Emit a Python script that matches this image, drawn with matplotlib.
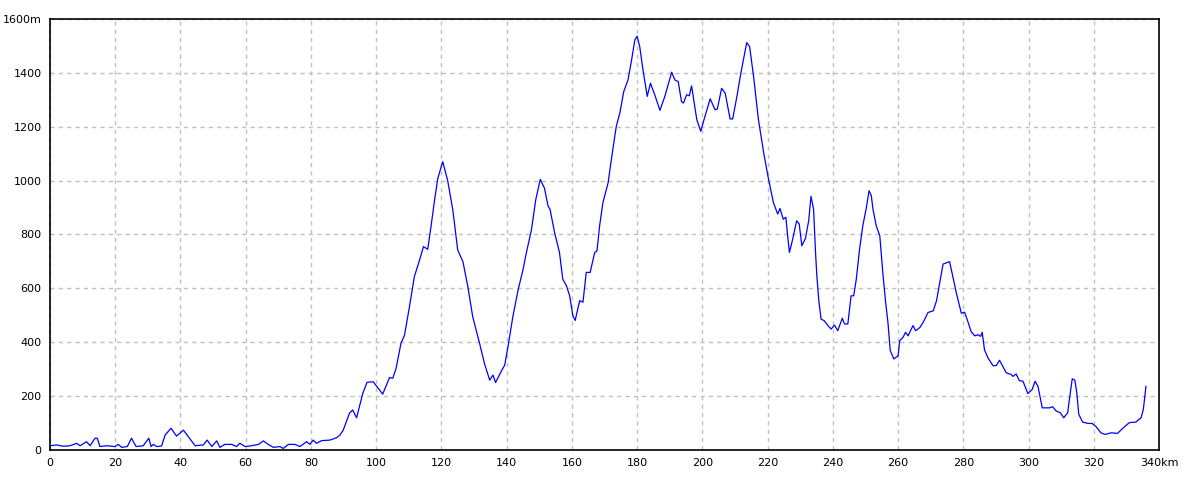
import matplotlib
matplotlib.use("Agg")
import matplotlib.pyplot as plt

km = [0, 2, 4.1, 6.1, 8.2, 9.2, 11.2, 12.3, 13.8, 14.5, 15.3, 17.4, 19.9, 20.9, 22,
      23.7, 25, 26.4, 28.6, 30.3, 31, 31.7, 32.7, 34.2, 35.3, 37.1, 38.8, 40.9, 42.4,
      44.5, 47, 48.2, 49.6, 51.1, 52.1, 53.6, 55.7, 57.2, 58.2, 59.8, 61.8, 63.9, 65.4,
      66.9, 68.5, 70.5, 71.5, 73.1, 75.1, 76.6, 78.7, 79.7, 80.7, 81.7, 83.3, 85.8,
      87.9, 88.9, 89.9, 91.8, 92.8, 94, 95.9, 97.2, 99.1, 102, 104.1, 105.1, 106.1,
      107.6, 108.7, 110.2, 111.7, 113.3, 114.5, 115.8, 116.8, 117.9, 118.9, 120.4,
      121.9, 123.5, 125, 126.6, 128.1, 129.6, 131.7, 133.2, 134.8, 135.8, 136.6,
      138.3, 139.4, 140.4, 141.9, 143.5, 145, 146, 147.6, 148.9, 150.3, 151.6, 152.7,
      153.3, 154.7, 156.2, 157.2, 158.3, 159.3, 160.3, 161, 162.4, 163.4, 164.4,
      165.6, 167, 167.7, 168.5, 169.5, 171.1, 172.1, 173.6, 174.7, 175.9, 177.2,
      178.3, 179.3, 180, 180.8, 181.8, 183.1, 184.1, 185.4, 187, 188.5, 190.6, 191.6,
      192.6, 193.6, 194.2, 195.2, 196, 196.7, 197.2, 198.3, 199.5, 200.5, 202.4,
      203.9, 204.6, 205.9, 207, 208.5, 209.3, 210.6, 211.8, 213.6, 214.5, 215.7,
      217.2, 218.8, 220.3, 221.8, 223.1, 223.8, 224.8, 225.6, 226.2, 226.7, 227.7,
      228.9, 229.7, 230.5, 231.6, 232.6, 233.3, 234.1, 234.7, 235.1, 235.7, 236.4,
      237.4, 238.5, 239.5, 240.5, 241.5, 242.9, 243.6, 244.6, 245.6, 246.4, 247.2,
      248.2, 249.2, 250.3, 251.1, 251.8, 252.3, 253.3, 254.4, 255.4, 256.2, 256.9,
      257.6, 258.7, 260, 260.5, 261.5, 262.3, 263.1, 263.8, 264.6, 265.4, 266.7,
      267.7, 269.2, 270.8, 271.8, 272.8, 273.8, 275.8, 276.8, 277.9, 279.4, 280.4,
      281.4, 282.4, 283.5, 284.5, 285.3, 285.8, 286.5, 287.6, 289.1, 290.1, 291.1,
      292.1, 293.2, 294.7, 295.2, 296.2, 297.2, 298.3, 299.8, 301.1, 302, 302.9,
      304.2, 306.4, 307.4, 308.5, 309.7, 310.8, 312, 312.8, 313.4, 314.2, 314.8,
      315.4, 316.6, 318.2, 319.5, 320.7, 322.2, 323.5, 325.3, 327.3, 328.9, 330.9,
      332.9, 334.5, 335.2, 336]
alt = [14, 17, 12, 14, 23, 14, 29, 14, 42, 42, 11, 14, 11, 19, 8,
       11, 42, 11, 14, 42, 11, 19, 11, 13, 54, 79, 50, 72, 48,
       14, 17, 35, 11, 32, 8, 19, 19, 11, 23, 11, 14, 19, 32,
       19, 8, 11, 4, 19, 19, 11, 29, 19, 35, 23, 33, 35,
       44, 54, 72, 135, 147, 118, 209, 250, 252, 206, 268, 265, 302,
       395, 426, 531, 643, 705, 755, 745, 829, 928, 1009, 1071,
       1002, 891, 742, 699, 606, 494, 395, 320, 258, 277, 249,
       290, 314, 382, 494, 593, 668, 730, 817, 928, 1005, 972, 906,
       894, 807, 733, 634, 610, 573, 498, 480, 554, 548, 659,
       659, 733, 739, 832, 918, 992, 1079, 1202, 1252, 1332, 1375,
       1449, 1524, 1538, 1499, 1412, 1314, 1363, 1320, 1262, 1314, 1404, 1375,
       1369, 1295, 1289, 1320, 1316, 1353, 1314, 1227, 1184, 1227, 1305,
       1264, 1267, 1344, 1326, 1230, 1230, 1314, 1400, 1514, 1499, 1388,
       1227, 1104, 1005, 918, 876, 897, 857, 864, 789, 733, 783,
       851, 839, 758, 785, 851, 942, 895, 733, 647, 554, 485,
       479, 461, 448, 463, 442, 488, 467, 467, 572, 572, 634,
       746, 833, 901, 963, 944, 895, 833, 795, 647, 547, 473,
       368, 337, 349, 405, 417, 436, 423, 442, 461, 442, 454,
       473, 510, 516, 554, 622, 690, 699, 643, 581, 507, 511,
       476, 439, 423, 427, 421, 436, 371, 340, 312, 312, 332,
       310, 285, 279, 272, 281, 256, 254, 208, 223, 254, 235,
       155, 155, 159, 143, 137, 118, 137, 211, 263, 258, 211,
       131, 102, 97, 97, 85, 62, 56, 62, 60, 79, 100,
       102, 118, 149, 235]

xticks = list(range(0, 341, 20))
xlabels = [str(v) for v in xticks[:-1]] + ["340km"]
yticks = list(range(0, 1601, 200))
ylabels = [str(v) for v in yticks[:-1]] + ["1600m"]

fig = plt.figure(figsize=(12, 4.8), dpi=100)
ax = fig.add_axes([50 / 1200, 30.5 / 480, 1109 / 1200, 430 / 480])

ax.plot(km, alt, color="#0000ff", linewidth=0.9)

ax.set_xlim(0, 340)
ax.set_ylim(0, 1600)
ax.set_xticks(xticks)
ax.set_xticklabels(xlabels, fontsize=8)
ax.set_yticks(yticks)
ax.set_yticklabels(ylabels, fontsize=8)
ax.tick_params(length=0, pad=6)

ax.grid(True, color="#c0c0c0", linestyle=(0, (3, 3)), linewidth=1.0)
for s in ax.spines.values():
    s.set_linewidth(1.2)
    s.set_color("black")

fig.savefig("out.png", dpi=100)
